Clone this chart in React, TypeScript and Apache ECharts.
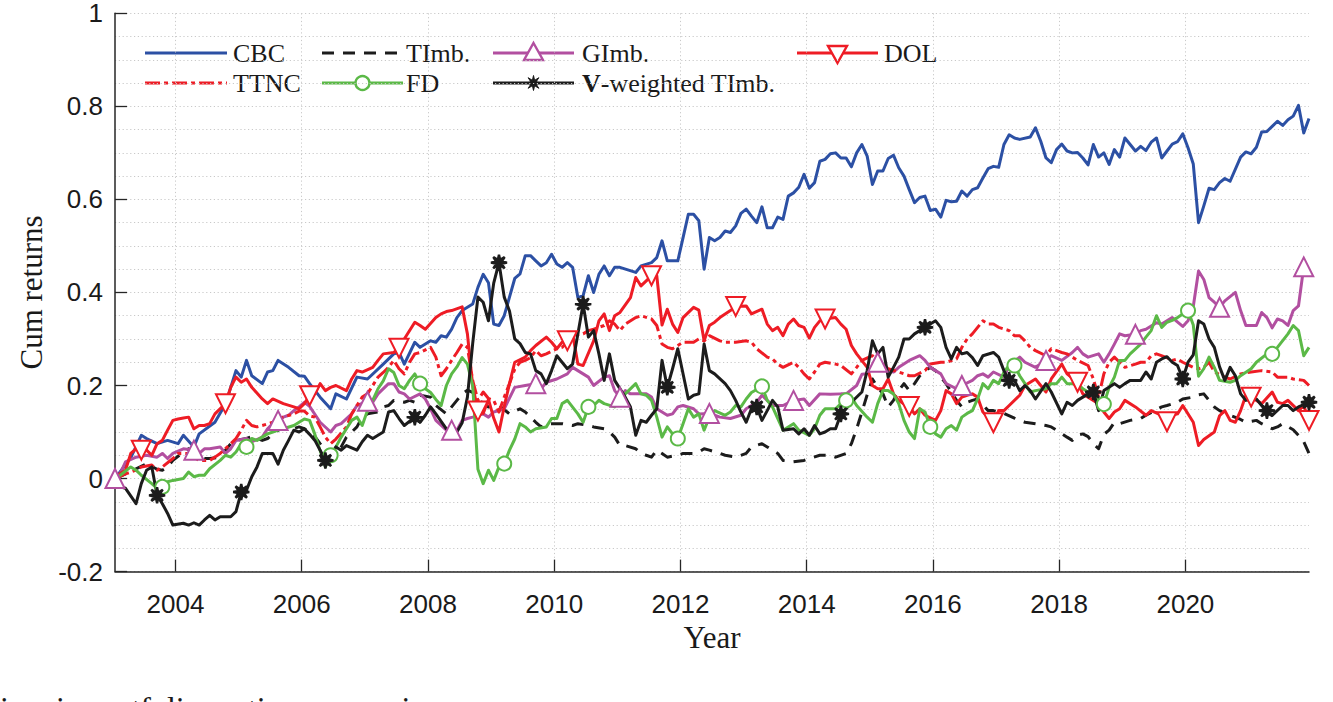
import { useEffect, useRef } from "react";
import * as echarts from "echarts";

// Monthly observations: month index (0 = January 2003) and cumulative return.
const START_YEAR = 2003;
const LAST_MONTH = 227;
const YEAR_TICKS = [2004, 2006, 2008, 2010, 2012, 2014, 2016, 2018, 2020];
const Y_MIN = -0.2;
const Y_MAX = 1;
const Y_STEP = 0.2;

const cbc: [number, number][] = [
  [0, 0], [2, 0.03], [3, 0.045], [5, 0.093], [6, 0.086], [8, 0.075], [10, 0.082], [12, 0.075], [13, 0.093], [15, 0.068],
  [16, 0.096], [19, 0.121], [21, 0.16], [23, 0.232], [24, 0.218], [25, 0.254], [26, 0.221], [28, 0.204], [29, 0.229], [30, 0.232],
  [31, 0.254], [33, 0.239], [35, 0.221], [36, 0.22], [37, 0.204], [39, 0.175], [41, 0.15], [42, 0.182], [44, 0.171], [46, 0.218],
  [48, 0.214], [51, 0.246], [53, 0.268], [54, 0.271], [55, 0.246], [57, 0.293], [58, 0.282], [60, 0.296], [61, 0.293], [62, 0.307],
  [63, 0.304], [64, 0.321], [65, 0.346], [66, 0.361], [68, 0.375], [69, 0.411], [70, 0.439], [71, 0.421], [72, 0.332], [73, 0.329],
  [74, 0.35], [75, 0.39], [76, 0.43], [77, 0.44], [78, 0.479], [79, 0.479], [80, 0.468], [81, 0.457], [82, 0.464], [83, 0.482],
  [84, 0.461], [85, 0.454], [86, 0.464], [87, 0.454], [88, 0.389], [89, 0.393], [90, 0.436], [91, 0.4], [92, 0.439], [93, 0.457],
  [94, 0.436], [95, 0.454], [96, 0.454], [99, 0.443], [100, 0.457], [102, 0.464], [103, 0.475], [104, 0.511], [105, 0.468], [107, 0.468],
  [108, 0.518], [109, 0.568], [110, 0.568], [111, 0.554], [112, 0.45], [113, 0.518], [114, 0.511], [115, 0.518], [116, 0.532], [117, 0.529],
  [118, 0.543], [119, 0.57], [120, 0.579], [121, 0.564], [122, 0.55], [123, 0.584], [124, 0.539], [125, 0.539], [126, 0.562], [127, 0.557],
  [128, 0.607], [129, 0.614], [130, 0.626], [131, 0.654], [132, 0.624], [133, 0.636], [134, 0.682], [135, 0.686], [136, 0.698], [137, 0.7],
  [138, 0.689], [139, 0.689], [140, 0.67], [141, 0.7], [142, 0.718], [143, 0.693], [144, 0.632], [145, 0.661], [146, 0.661], [147, 0.688],
  [148, 0.695], [149, 0.668], [150, 0.65], [151, 0.621], [152, 0.593], [153, 0.604], [154, 0.607], [155, 0.576], [156, 0.579], [157, 0.562],
  [158, 0.598], [159, 0.595], [160, 0.596], [161, 0.618], [162, 0.607], [163, 0.621], [164, 0.625], [165, 0.646], [166, 0.666], [167, 0.671],
  [168, 0.669], [169, 0.718], [170, 0.739], [171, 0.732], [172, 0.729], [174, 0.734], [175, 0.754], [176, 0.725], [177, 0.689], [178, 0.679],
  [179, 0.707], [180, 0.719], [181, 0.704], [182, 0.7], [183, 0.701], [184, 0.689], [185, 0.674], [186, 0.718], [187, 0.691], [188, 0.7],
  [189, 0.675], [190, 0.707], [191, 0.691], [192, 0.732], [193, 0.718], [194, 0.704], [195, 0.714], [196, 0.705], [197, 0.723], [198, 0.732],
  [199, 0.689], [200, 0.704], [201, 0.719], [202, 0.724], [203, 0.741], [204, 0.711], [205, 0.676], [206, 0.55], [207, 0.586], [208, 0.624],
  [209, 0.621], [210, 0.636], [211, 0.645], [212, 0.639], [214, 0.691], [215, 0.702], [216, 0.698], [217, 0.712], [218, 0.745], [219, 0.746],
  [220, 0.757], [221, 0.768], [222, 0.759], [223, 0.771], [224, 0.779], [225, 0.802], [226, 0.743], [227, 0.774],
];

const timb: [number, number][] = [
  [0, 0], [2, 0.01], [4, 0.021], [6, 0.032], [8, 0.02], [9, 0.018], [10, 0.025], [11, 0.039], [13, 0.057], [14, 0.064],
  [16, 0.046], [17, 0.043], [18, 0.043], [20, 0.046], [21, 0.061], [22, 0.075], [23, 0.082], [25, 0.086], [26, 0.09], [28, 0.082],
  [29, 0.086], [30, 0.096], [32, 0.111], [33, 0.104], [35, 0.111], [36, 0.107], [37, 0.1], [38, 0.09], [39, 0.075], [40, 0.061],
  [41, 0.046], [42, 0.054], [43, 0.068], [44, 0.089], [46, 0.111], [47, 0.132], [48, 0.139], [50, 0.143], [51, 0.154], [52, 0.157],
  [53, 0.168], [55, 0.164], [56, 0.168], [57, 0.164], [58, 0.179], [60, 0.175], [61, 0.157], [63, 0.139], [64, 0.154], [65, 0.168],
  [66, 0.182], [67, 0.19], [68, 0.185], [69, 0.17], [71, 0.154], [73, 0.157], [75, 0.139], [77, 0.15], [78, 0.143], [80, 0.121],
  [81, 0.111], [82, 0.118], [84, 0.118], [85, 0.118], [87, 0.114], [88, 0.118], [90, 0.114], [91, 0.111], [93, 0.107], [94, 0.1],
  [95, 0.089], [96, 0.071], [97, 0.071], [99, 0.064], [100, 0.054], [101, 0.05], [102, 0.046], [103, 0.061], [104, 0.054], [105, 0.046],
  [107, 0.05], [108, 0.054], [110, 0.054], [111, 0.057], [112, 0.064], [113, 0.061], [115, 0.054], [116, 0.05], [118, 0.046], [120, 0.054],
  [121, 0.068], [123, 0.075], [124, 0.068], [126, 0.054], [127, 0.039], [129, 0.036], [131, 0.039], [132, 0.043], [134, 0.05], [136, 0.05],
  [137, 0.046], [139, 0.054], [140, 0.075], [141, 0.107], [142, 0.143], [143, 0.18], [144, 0.214], [145, 0.196], [146, 0.182], [147, 0.154],
  [148, 0.168], [149, 0.189], [150, 0.204], [151, 0.189], [152, 0.204], [153, 0.221], [154, 0.232], [155, 0.239], [156, 0.232], [158, 0.204],
  [159, 0.186], [160, 0.168], [161, 0.154], [162, 0.164], [163, 0.168], [164, 0.171], [166, 0.146], [167, 0.146], [169, 0.14], [171, 0.13],
  [173, 0.121], [175, 0.118], [177, 0.114], [178, 0.111], [179, 0.104], [181, 0.089], [182, 0.082], [183, 0.093], [184, 0.096], [185, 0.09],
  [186, 0.075], [187, 0.064], [188, 0.095], [189, 0.104], [190, 0.121], [191, 0.118], [193, 0.125], [195, 0.129], [196, 0.136], [198, 0.148],
  [199, 0.154], [200, 0.157], [202, 0.164], [203, 0.171], [205, 0.175], [206, 0.18], [207, 0.182], [208, 0.168], [209, 0.154], [210, 0.146],
  [212, 0.136], [214, 0.127], [215, 0.121], [217, 0.125], [218, 0.118], [220, 0.107], [221, 0.111], [222, 0.118], [224, 0.105], [225, 0.093],
  [226, 0.079], [227, 0.054],
];

const gimb: [number, number][] = [
  [0, 0], [1, 0.011], [2, 0.036], [4, 0.046], [6, 0.05], [8, 0.046], [9, 0.054], [10, 0.043], [11, 0.054], [13, 0.064],
  [15, 0.061], [16, 0.054], [17, 0.064], [18, 0.064], [20, 0.068], [21, 0.054], [22, 0.064], [23, 0.082], [25, 0.086], [26, 0.079],
  [28, 0.089], [29, 0.107], [30, 0.118], [31, 0.125], [32, 0.132], [33, 0.136], [34, 0.146], [35, 0.154], [36, 0.164], [37, 0.155],
  [39, 0.121], [41, 0.1], [42, 0.114], [43, 0.118], [45, 0.139], [46, 0.157], [48, 0.166], [49, 0.164], [50, 0.182], [52, 0.204],
  [53, 0.204], [54, 0.186], [55, 0.182], [56, 0.171], [58, 0.182], [59, 0.171], [60, 0.15], [61, 0.125], [63, 0.104], [64, 0.104],
  [65, 0.104], [66, 0.125], [67, 0.129], [68, 0.132], [70, 0.139], [71, 0.132], [72, 0.143], [73, 0.146], [74, 0.15], [76, 0.196],
  [78, 0.2], [80, 0.204], [81, 0.193], [82, 0.207], [84, 0.214], [86, 0.225], [87, 0.239], [89, 0.225], [90, 0.218], [91, 0.2],
  [93, 0.218], [94, 0.221], [95, 0.189], [96, 0.175], [97, 0.189], [98, 0.182], [100, 0.182], [101, 0.182], [102, 0.175], [103, 0.15],
  [105, 0.136], [106, 0.139], [107, 0.154], [108, 0.157], [110, 0.15], [111, 0.139], [113, 0.14], [114, 0.136], [115, 0.132], [117, 0.129],
  [119, 0.136], [120, 0.15], [122, 0.164], [123, 0.179], [124, 0.168], [125, 0.157], [127, 0.157], [129, 0.168], [131, 0.171], [132, 0.157],
  [134, 0.182], [136, 0.181], [138, 0.182], [139, 0.182], [141, 0.2], [142, 0.224], [143, 0.225], [145, 0.25], [146, 0.239], [148, 0.229],
  [149, 0.239], [151, 0.254], [153, 0.264], [154, 0.254], [155, 0.239], [157, 0.225], [158, 0.204], [160, 0.193], [161, 0.2], [163, 0.211],
  [164, 0.221], [165, 0.225], [166, 0.218], [167, 0.229], [169, 0.218], [170, 0.243], [172, 0.261], [173, 0.25], [175, 0.239], [177, 0.254],
  [178, 0.264], [180, 0.254], [182, 0.271], [183, 0.282], [184, 0.268], [185, 0.261], [187, 0.268], [188, 0.25], [189, 0.268], [190, 0.289],
  [191, 0.311], [192, 0.307], [194, 0.31], [195, 0.318], [196, 0.321], [198, 0.335], [199, 0.332], [200, 0.339], [201, 0.346], [203, 0.327],
  [204, 0.339], [205, 0.37], [206, 0.446], [207, 0.428], [208, 0.389], [209, 0.379], [210, 0.368], [211, 0.382], [213, 0.4], [214, 0.361],
  [215, 0.329], [217, 0.329], [218, 0.357], [219, 0.346], [220, 0.324], [221, 0.343], [222, 0.339], [223, 0.329], [224, 0.361], [225, 0.371],
  [226, 0.455],
];

const dol: [number, number][] = [
  [0, 0], [1, 0.011], [2, 0.018], [3, 0.054], [4, 0.064], [5, 0.061], [6, 0.061], [7, 0.05], [8, 0.075], [9, 0.082],
  [10, 0.104], [11, 0.125], [12, 0.128], [13, 0.13], [14, 0.132], [15, 0.107], [16, 0.114], [17, 0.114], [18, 0.118], [19, 0.139],
  [21, 0.161], [22, 0.196], [23, 0.218], [24, 0.207], [25, 0.214], [26, 0.196], [28, 0.171], [29, 0.161], [30, 0.171], [32, 0.161],
  [34, 0.154], [35, 0.15], [36, 0.161], [37, 0.178], [38, 0.182], [39, 0.204], [40, 0.189], [41, 0.196], [42, 0.2], [44, 0.189],
  [45, 0.214], [46, 0.232], [47, 0.229], [49, 0.239], [50, 0.254], [51, 0.268], [53, 0.271], [54, 0.28], [55, 0.3], [57, 0.336],
  [58, 0.329], [59, 0.321], [61, 0.346], [62, 0.354], [63, 0.359], [64, 0.361], [66, 0.369], [67, 0.311], [68, 0.2], [69, 0.145],
  [70, 0.14], [71, 0.17], [72, 0.13], [73, 0.1], [74, 0.155], [75, 0.204], [76, 0.25], [78, 0.261], [79, 0.275], [80, 0.286],
  [82, 0.304], [83, 0.293], [84, 0.279], [85, 0.293], [86, 0.296], [87, 0.311], [88, 0.246], [89, 0.243], [91, 0.296], [92, 0.339],
  [93, 0.354], [94, 0.318], [95, 0.35], [96, 0.357], [98, 0.389], [99, 0.432], [100, 0.414], [101, 0.425], [102, 0.436], [103, 0.436],
  [104, 0.33], [105, 0.364], [106, 0.332], [107, 0.314], [108, 0.346], [110, 0.368], [111, 0.362], [112, 0.296], [113, 0.329], [114, 0.336],
  [115, 0.346], [117, 0.361], [118, 0.37], [120, 0.371], [121, 0.354], [123, 0.364], [124, 0.332], [125, 0.318], [126, 0.325], [127, 0.307],
  [128, 0.332], [129, 0.343], [130, 0.329], [131, 0.325], [132, 0.302], [133, 0.325], [134, 0.339], [135, 0.343], [137, 0.346], [138, 0.332],
  [139, 0.321], [140, 0.286], [141, 0.268], [143, 0.239], [144, 0.2], [145, 0.193], [146, 0.193], [147, 0.214], [148, 0.182], [149, 0.168],
  [150, 0.16], [151, 0.155], [152, 0.139], [153, 0.15], [154, 0.136], [156, 0.125], [157, 0.146], [158, 0.189], [159, 0.182], [160, 0.161],
  [161, 0.175], [162, 0.179], [163, 0.182], [164, 0.175], [165, 0.143], [167, 0.12], [168, 0.146], [169, 0.146], [170, 0.157], [172, 0.179],
  [173, 0.2], [175, 0.214], [177, 0.186], [178, 0.214], [180, 0.246], [181, 0.225], [183, 0.207], [184, 0.182], [185, 0.175], [187, 0.161],
  [188, 0.143], [189, 0.129], [190, 0.143], [191, 0.15], [192, 0.168], [194, 0.154], [196, 0.136], [197, 0.146], [199, 0.136], [200, 0.122],
  [201, 0.136], [202, 0.139], [203, 0.157], [205, 0.121], [206, 0.071], [207, 0.084], [209, 0.1], [210, 0.135], [211, 0.146], [212, 0.125],
  [213, 0.121], [214, 0.146], [215, 0.179], [216, 0.175], [217, 0.168], [218, 0.161], [220, 0.186], [221, 0.164], [222, 0.161], [223, 0.168],
  [225, 0.146], [226, 0.157], [227, 0.125],
];

const ttnc: [number, number][] = [
  [0, 0], [2, 0.01], [4, 0.018], [5, 0.025], [7, 0.029], [8, 0.018], [9, 0.025], [11, 0.043], [12, 0.054], [14, 0.054],
  [15, 0.046], [16, 0.039], [18, 0.039], [19, 0.046], [20, 0.054], [22, 0.075], [23, 0.086], [24, 0.104], [25, 0.125], [26, 0.114],
  [27, 0.111], [28, 0.114], [30, 0.121], [31, 0.129], [32, 0.132], [34, 0.139], [35, 0.145], [36, 0.145], [37, 0.135], [38, 0.132],
  [39, 0.111], [40, 0.089], [41, 0.075], [42, 0.085], [44, 0.111], [45, 0.139], [47, 0.175], [48, 0.182], [49, 0.2], [50, 0.218],
  [51, 0.228], [52, 0.239], [53, 0.254], [54, 0.236], [55, 0.225], [56, 0.25], [57, 0.268], [58, 0.271], [60, 0.282], [61, 0.261],
  [62, 0.221], [63, 0.236], [64, 0.254], [65, 0.271], [66, 0.289], [67, 0.282], [68, 0.211], [69, 0.168], [70, 0.186], [71, 0.172],
  [72, 0.168], [73, 0.143], [74, 0.175], [75, 0.204], [76, 0.235], [77, 0.25], [78, 0.254], [79, 0.26], [80, 0.275], [81, 0.264],
  [82, 0.268], [84, 0.279], [85, 0.282], [86, 0.293], [87, 0.307], [89, 0.311], [90, 0.318], [91, 0.321], [93, 0.329], [94, 0.339],
  [95, 0.332], [96, 0.318], [97, 0.332], [99, 0.346], [100, 0.35], [102, 0.343], [103, 0.329], [104, 0.289], [105, 0.282], [106, 0.279],
  [107, 0.286], [108, 0.293], [110, 0.293], [111, 0.3], [112, 0.296], [113, 0.307], [115, 0.296], [116, 0.293], [118, 0.293], [120, 0.296],
  [121, 0.293], [122, 0.279], [124, 0.261], [125, 0.257], [126, 0.246], [127, 0.239], [129, 0.25], [130, 0.239], [131, 0.225], [132, 0.214],
  [133, 0.229], [134, 0.246], [135, 0.25], [137, 0.246], [138, 0.243], [140, 0.225], [141, 0.239], [142, 0.254], [144, 0.264], [145, 0.254],
  [146, 0.246], [147, 0.236], [149, 0.229], [151, 0.221], [152, 0.221], [154, 0.232], [155, 0.246], [157, 0.25], [158, 0.25], [160, 0.257],
  [161, 0.282], [162, 0.3], [163, 0.311], [164, 0.325], [165, 0.339], [166, 0.332], [167, 0.332], [168, 0.325], [170, 0.318], [171, 0.307],
  [172, 0.307], [173, 0.296], [174, 0.282], [175, 0.275], [177, 0.264], [178, 0.279], [180, 0.271], [181, 0.268], [182, 0.261], [183, 0.254],
  [185, 0.243], [186, 0.214], [187, 0.175], [188, 0.225], [189, 0.25], [190, 0.261], [191, 0.25], [192, 0.239], [194, 0.246], [195, 0.25],
  [196, 0.25], [197, 0.264], [198, 0.268], [200, 0.26], [201, 0.254], [202, 0.257], [203, 0.25], [205, 0.239], [206, 0.236], [207, 0.239],
  [208, 0.25], [209, 0.229], [211, 0.218], [212, 0.214], [214, 0.225], [216, 0.229], [218, 0.232], [220, 0.229], [221, 0.218], [223, 0.218],
  [224, 0.214], [226, 0.211], [227, 0.2],
];

const fd: [number, number][] = [
  [0, 0], [1, 0.007], [3, 0.025], [4, 0.018], [5, 0.007], [7, -0.011], [8, -0.021], [9, -0.018], [10, -0.007], [11, -0.004],
  [13, 0], [14, 0.014], [15, 0.004], [16, 0.007], [17, 0.007], [18, 0.021], [20, 0.039], [21, 0.05], [22, 0.046], [23, 0.057],
  [24, 0.075], [25, 0.068], [26, 0.086], [27, 0.082], [29, 0.096], [30, 0.1], [31, 0.104], [32, 0.107], [34, 0.114], [35, 0.121],
  [36, 0.128], [37, 0.125], [38, 0.095], [39, 0.06], [40, 0.025], [41, 0.05], [42, 0.068], [43, 0.089], [44, 0.107], [45, 0.125],
  [46, 0.132], [47, 0.114], [48, 0.146], [49, 0.168], [50, 0.193], [51, 0.21], [52, 0.236], [53, 0.228], [54, 0.2], [55, 0.193],
  [56, 0.211], [57, 0.225], [58, 0.204], [59, 0.193], [60, 0.185], [61, 0.17], [62, 0.157], [63, 0.2], [64, 0.225], [65, 0.24],
  [66, 0.26], [67, 0.246], [68, 0.2], [69, 0.02], [70, -0.011], [71, 0.018], [72, -0.004], [73, 0.025], [74, 0.032], [75, 0.061],
  [76, 0.085], [77, 0.118], [78, 0.111], [79, 0.1], [80, 0.107], [82, 0.111], [83, 0.129], [84, 0.129], [85, 0.161], [86, 0.168],
  [88, 0.139], [89, 0.121], [90, 0.154], [91, 0.157], [92, 0.168], [93, 0.161], [95, 0.154], [96, 0.168], [97, 0.182], [99, 0.204],
  [100, 0.182], [101, 0.179], [102, 0.168], [103, 0.132], [104, 0.089], [105, 0.111], [106, 0.096], [107, 0.086], [108, 0.118], [109, 0.15],
  [110, 0.132], [111, 0.139], [112, 0.104], [113, 0.132], [114, 0.146], [116, 0.136], [117, 0.143], [118, 0.157], [119, 0.154], [120, 0.171],
  [121, 0.185], [123, 0.198], [124, 0.168], [125, 0.154], [127, 0.104], [128, 0.111], [129, 0.118], [130, 0.104], [132, 0.093], [133, 0.107],
  [134, 0.136], [135, 0.15], [137, 0.15], [138, 0.161], [139, 0.168], [140, 0.175], [141, 0.157], [143, 0.132], [144, 0.121], [145, 0.161],
  [146, 0.189], [147, 0.189], [148, 0.182], [149, 0.161], [150, 0.125], [151, 0.1], [152, 0.086], [153, 0.15], [154, 0.143], [155, 0.111],
  [156, 0.096], [157, 0.089], [158, 0.107], [159, 0.114], [160, 0.104], [161, 0.132], [162, 0.14], [163, 0.146], [164, 0.171], [165, 0.204],
  [166, 0.193], [167, 0.211], [168, 0.204], [169, 0.229], [170, 0.243], [171, 0.243], [172, 0.221], [173, 0.204], [174, 0.186], [175, 0.189],
  [177, 0.193], [178, 0.204], [179, 0.204], [180, 0.218], [181, 0.204], [183, 0.204], [184, 0.193], [185, 0.186], [186, 0.182], [187, 0.164],
  [188, 0.16], [189, 0.196], [190, 0.218], [191, 0.254], [192, 0.254], [193, 0.268], [195, 0.289], [196, 0.304], [197, 0.318], [198, 0.35],
  [199, 0.325], [200, 0.336], [201, 0.34], [202, 0.346], [204, 0.361], [205, 0.33], [206, 0.22], [207, 0.236], [208, 0.261], [209, 0.239],
  [210, 0.211], [212, 0.207], [213, 0.211], [214, 0.221], [216, 0.236], [217, 0.25], [219, 0.268], [220, 0.268], [221, 0.282], [223, 0.311],
  [224, 0.329], [225, 0.318], [226, 0.264], [227, 0.282],
];

const vTimb: [number, number][] = [
  [0, 0], [1, -0.018], [2, -0.021], [4, -0.054], [5, -0.011], [6, 0.018], [7, 0.025], [8, -0.036], [9, -0.054], [10, -0.075],
  [11, -0.1], [13, -0.096], [14, -0.1], [15, -0.095], [16, -0.1], [17, -0.089], [18, -0.079], [19, -0.089], [20, -0.082], [22, -0.082],
  [23, -0.071], [24, -0.029], [25, -0.025], [26, 0.004], [27, 0.025], [28, 0.054], [30, 0.054], [31, 0.031], [32, 0.061], [33, 0.082],
  [34, 0.104], [35, 0.1], [36, 0.107], [37, 0.095], [38, 0.082], [39, 0.061], [40, 0.039], [41, 0.046], [42, 0.068], [43, 0.061],
  [44, 0.071], [46, 0.061], [47, 0.079], [48, 0.093], [49, 0.086], [51, 0.1], [52, 0.143], [53, 0.146], [54, 0.129], [55, 0.114],
  [57, 0.132], [58, 0.121], [59, 0.136], [60, 0.154], [61, 0.139], [63, 0.107], [64, 0.1], [65, 0.1], [66, 0.12], [67, 0.175],
  [68, 0.29], [69, 0.39], [70, 0.379], [71, 0.339], [72, 0.42], [73, 0.464], [74, 0.39], [75, 0.36], [76, 0.3], [77, 0.29],
  [78, 0.271], [79, 0.268], [80, 0.232], [81, 0.225], [82, 0.204], [83, 0.232], [84, 0.264], [85, 0.25], [86, 0.236], [87, 0.246],
  [89, 0.375], [90, 0.304], [91, 0.318], [92, 0.268], [93, 0.211], [94, 0.268], [95, 0.211], [97, 0.175], [98, 0.154], [99, 0.093],
  [100, 0.125], [101, 0.121], [102, 0.136], [103, 0.15], [104, 0.254], [105, 0.196], [106, 0.236], [107, 0.279], [109, 0.171], [110, 0.179],
  [111, 0.182], [112, 0.289], [113, 0.232], [114, 0.225], [116, 0.204], [117, 0.189], [118, 0.168], [119, 0.143], [120, 0.121], [121, 0.15],
  [122, 0.154], [123, 0.125], [124, 0.146], [125, 0.168], [126, 0.154], [127, 0.104], [129, 0.107], [130, 0.096], [131, 0.107], [132, 0.093],
  [133, 0.114], [134, 0.096], [135, 0.1], [136, 0.107], [137, 0.107], [138, 0.139], [139, 0.15], [140, 0.164], [142, 0.186], [143, 0.232],
  [144, 0.296], [145, 0.268], [146, 0.282], [147, 0.218], [148, 0.239], [149, 0.261], [150, 0.3], [151, 0.3], [152, 0.311], [153, 0.318],
  [154, 0.325], [155, 0.332], [156, 0.339], [157, 0.325], [158, 0.282], [159, 0.257], [160, 0.282], [161, 0.268], [162, 0.271], [163, 0.26],
  [164, 0.243], [165, 0.264], [167, 0.271], [168, 0.261], [169, 0.232], [170, 0.211], [171, 0.211], [172, 0.189], [173, 0.2], [174, 0.189],
  [175, 0.171], [177, 0.204], [178, 0.186], [180, 0.139], [181, 0.164], [182, 0.157], [183, 0.168], [185, 0.182], [186, 0.186], [187, 0.146],
  [188, 0.189], [190, 0.204], [191, 0.196], [192, 0.204], [193, 0.211], [195, 0.211], [196, 0.229], [197, 0.214], [198, 0.25], [199, 0.257],
  [200, 0.262], [201, 0.25], [202, 0.243], [203, 0.214], [204, 0.25], [205, 0.266], [206, 0.339], [207, 0.332], [208, 0.3], [209, 0.282],
  [210, 0.24], [211, 0.211], [212, 0.239], [213, 0.221], [214, 0.182], [215, 0.168], [217, 0.171], [218, 0.157], [219, 0.146], [220, 0.136],
  [222, 0.157], [223, 0.157], [224, 0.146], [225, 0.154], [227, 0.164],
];

// Months that carry a marker on each marked series.
const gimbMarks = [0, 15, 31, 48, 64, 80, 96, 113, 129, 145, 161, 177, 194, 210, 226];
const dolMarks = [5, 21, 37, 54, 69, 86, 102, 118, 135, 151, 167, 183, 200, 216, 227];
const fdMarks = [9, 25, 41, 58, 74, 90, 107, 123, 139, 155, 171, 188, 204, 220];
const vTimbMarks = [8, 24, 40, 57, 73, 89, 105, 122, 138, 154, 170, 186, 203, 219, 227];

const BLUE = "#2c50a4";
const BLACK = "#1c1c1c";
const PURPLE = "#b24fa0";
const RED = "#ee1c25";
const GREEN = "#5bb947";

const SERIF = "'Liberation Serif', 'Times New Roman', serif";
const SANS = "'Liberation Sans', Arial, Helvetica, sans-serif";

const DASH: number[] = [12, 9];
const DASH_DOT: number[] = [15, 4, 4, 4];

// Eight-spoke asterisk glyph used as a marker.
function asteriskPoints(cx: number, cy: number, r: number): number[][] {
  const pts: number[][] = [];
  for (let k = 0; k < 16; k++) {
    const a = (k * Math.PI) / 8 - Math.PI / 2;
    const rr = k % 2 === 0 ? r : r * 0.38;
    pts.push([cx + rr * Math.cos(a), cy + rr * Math.sin(a)]);
  }
  return pts;
}
const ASTERISK =
  "path://M" + asteriskPoints(10, 10, 10).map((p) => `${p[0].toFixed(2)},${p[1].toFixed(2)}`).join("L") + "Z";

const toYear = (m: number) => START_YEAR + (m + 0.5) / 12;

function lineData(points: [number, number][], marks?: number[]) {
  const marked = new Set(marks ?? []);
  return points.map(([m, v]) =>
    marks && marked.has(m) ? { value: [toYear(m), v] } : { value: [toYear(m), v], symbol: "none" }
  );
}

function makeSeries(
  name: string,
  points: [number, number][],
  color: string,
  opts: { dash?: number[]; marks?: number[]; symbol?: string; size?: number; rotate?: number; width?: number }
) {
  return {
    name,
    type: "line",
    data: lineData(points, opts.marks),
    symbol: opts.symbol ?? "none",
    symbolSize: opts.size ?? 10,
    symbolRotate: opts.rotate ?? 0,
    symbolKeepAspect: true,
    showAllSymbol: true,
    clip: false,
    silent: true,
    lineStyle: { color, width: opts.width ?? 3, type: opts.dash ?? "solid", cap: "butt", join: "round" },
    itemStyle: { color, borderColor: color, borderWidth: 2.4 },
    emphasis: { disabled: true },
  };
}

function legendGraphics() {
  const rows = [53, 83];
  const cols = [
    { x1: 145, x2: 227, tx: 233 },
    { x1: 322, x2: 403, tx: 406 },
    { x1: 493, x2: 574, tx: 582 },
    { x1: 797, x2: 878, tx: 884 },
  ];
  const entries: { col: number; row: number; label: string; color: string; dash?: number[]; marker?: string; rich?: boolean }[] = [
    { col: 0, row: 0, label: "CBC", color: BLUE },
    { col: 1, row: 0, label: "TImb.", color: BLACK, dash: DASH },
    { col: 2, row: 0, label: "GImb.", color: PURPLE, marker: "up" },
    { col: 3, row: 0, label: "DOL", color: RED, marker: "down" },
    { col: 0, row: 1, label: "TTNC", color: RED, dash: DASH_DOT },
    { col: 1, row: 1, label: "FD", color: GREEN, marker: "circle" },
    { col: 2, row: 1, label: "{b|V}-weighted TImb.", color: BLACK, marker: "star", rich: true },
  ];
  const out: any[] = [];
  for (const e of entries) {
    const c = cols[e.col];
    const y = rows[e.row];
    const cx = (c.x1 + c.x2) / 2;
    out.push({
      type: "line",
      shape: { x1: c.x1, y1: y, x2: c.x2, y2: y },
      style: { stroke: e.color, lineWidth: 3, lineDash: e.dash ?? null, lineCap: "butt" },
      silent: true,
    });
    if (e.marker === "up") {
      out.push({
        type: "polygon",
        shape: { points: [[cx, y - 10], [cx + 9.5, y + 7], [cx - 9.5, y + 7]] },
        style: { fill: "#fff", stroke: e.color, lineWidth: 2.4 },
        silent: true,
      });
    } else if (e.marker === "down") {
      out.push({
        type: "polygon",
        shape: { points: [[cx, y + 10], [cx + 9.5, y - 7], [cx - 9.5, y - 7]] },
        style: { fill: "#fff", stroke: e.color, lineWidth: 2.4 },
        silent: true,
      });
    } else if (e.marker === "circle") {
      out.push({
        type: "circle",
        shape: { cx, cy: y, r: 7 },
        style: { fill: "#fff", stroke: e.color, lineWidth: 2.4 },
        silent: true,
      });
    } else if (e.marker === "star") {
      out.push({
        type: "polygon",
        shape: { points: asteriskPoints(cx, y, 7.5) },
        style: { fill: e.color, stroke: e.color, lineWidth: 1 },
        silent: true,
      });
    }
    out.push({
      type: "text",
      x: c.tx,
      y,
      style: {
        text: e.label,
        fill: "#1a1a1a",
        fontFamily: SERIF,
        fontSize: 26,
        verticalAlign: "middle",
        align: "left",
        rich: e.rich ? { b: { fontWeight: "bold", fontFamily: SERIF, fontSize: 26, fill: "#1a1a1a" } } : undefined,
      },
      silent: true,
    });
  }
  // Caption line running off the lower edge of the figure.
  out.push({
    type: "text",
    x: -9,
    y: 708,
    style: {
      text: "time in portfolio sorting comparison",
      fill: "#1a1a1a",
      fontFamily: SERIF,
      fontSize: 32,
      verticalAlign: "middle",
      align: "left",
    },
    silent: true,
  });
  return out;
}

export default function App() {
  const ref = useRef<HTMLDivElement>(null);

  useEffect(() => {
    if (!ref.current) return;
    const chart = echarts.init(ref.current, undefined, { renderer: "svg" });
    const gridLine = { show: true, lineStyle: { color: "#c9c9c9", width: 1, type: [1.2, 2.6] } };
    chart.setOption({
      animation: false,
      backgroundColor: "#ffffff",
      grid: { left: 115, right: 24, top: 13.3, bottom: 130.4, containLabel: false },
      xAxis: {
        type: "value",
        min: toYear(0),
        max: toYear(LAST_MONTH),
        name: "Year",
        nameLocation: "middle",
        nameGap: 39,
        nameTextStyle: { fontFamily: SERIF, fontSize: 31, color: "#1a1a1a" },
        axisLine: { show: true, onZero: false, lineStyle: { color: "#262626", width: 1.5 } },
        axisTick: { show: true, inside: true, length: 12, customValues: YEAR_TICKS, lineStyle: { color: "#262626", width: 1.3 } },
        axisLabel: {
          customValues: YEAR_TICKS,
          formatter: (v: number) => String(Math.round(v)),
          fontFamily: SANS,
          fontSize: 26,
          color: "#1a1a1a",
          margin: 19,
        },
        splitLine: gridLine,
      },
      yAxis: {
        type: "value",
        min: Y_MIN,
        max: Y_MAX,
        interval: Y_STEP,
        name: "Cum returns",
        nameLocation: "middle",
        nameGap: 67,
        nameRotate: 90,
        nameTextStyle: { fontFamily: SERIF, fontSize: 31, color: "#1a1a1a" },
        axisLine: { show: true, lineStyle: { color: "#262626", width: 1.5 } },
        axisTick: { show: true, inside: true, length: 12, lineStyle: { color: "#262626", width: 1.3 } },
        axisLabel: {
          formatter: (v: number) => String(Number(v.toFixed(1))),
          fontFamily: SANS,
          fontSize: 26,
          color: "#1a1a1a",
          margin: 12,
        },
        splitLine: gridLine,
        minorTick: { show: false, splitNumber: 4 },
        minorSplitLine: gridLine,
      },
      series: [
        makeSeries("CBC", cbc, BLUE, {}),
        makeSeries("TImb.", timb, BLACK, { dash: DASH }),
        makeSeries("GImb.", gimb, PURPLE, { marks: gimbMarks, symbol: "emptyTriangle", size: 19 }),
        makeSeries("DOL", dol, RED, { marks: dolMarks, symbol: "emptyTriangle", size: 19, rotate: 180 }),
        makeSeries("TTNC", ttnc, RED, { dash: DASH_DOT }),
        makeSeries("FD", fd, GREEN, { marks: fdMarks, symbol: "emptyCircle", size: 14 }),
        makeSeries("V-weighted TImb.", vTimb, BLACK, { marks: vTimbMarks, symbol: ASTERISK, size: 16 }),
      ],
      graphic: legendGraphics(),
    });
    return () => chart.dispose();
  }, []);

  return (
    <div
      ref={ref}
      style={{ position: "absolute", left: 0, top: 0, width: 1333, height: 702, background: "#fff" }}
    />
  );
}
